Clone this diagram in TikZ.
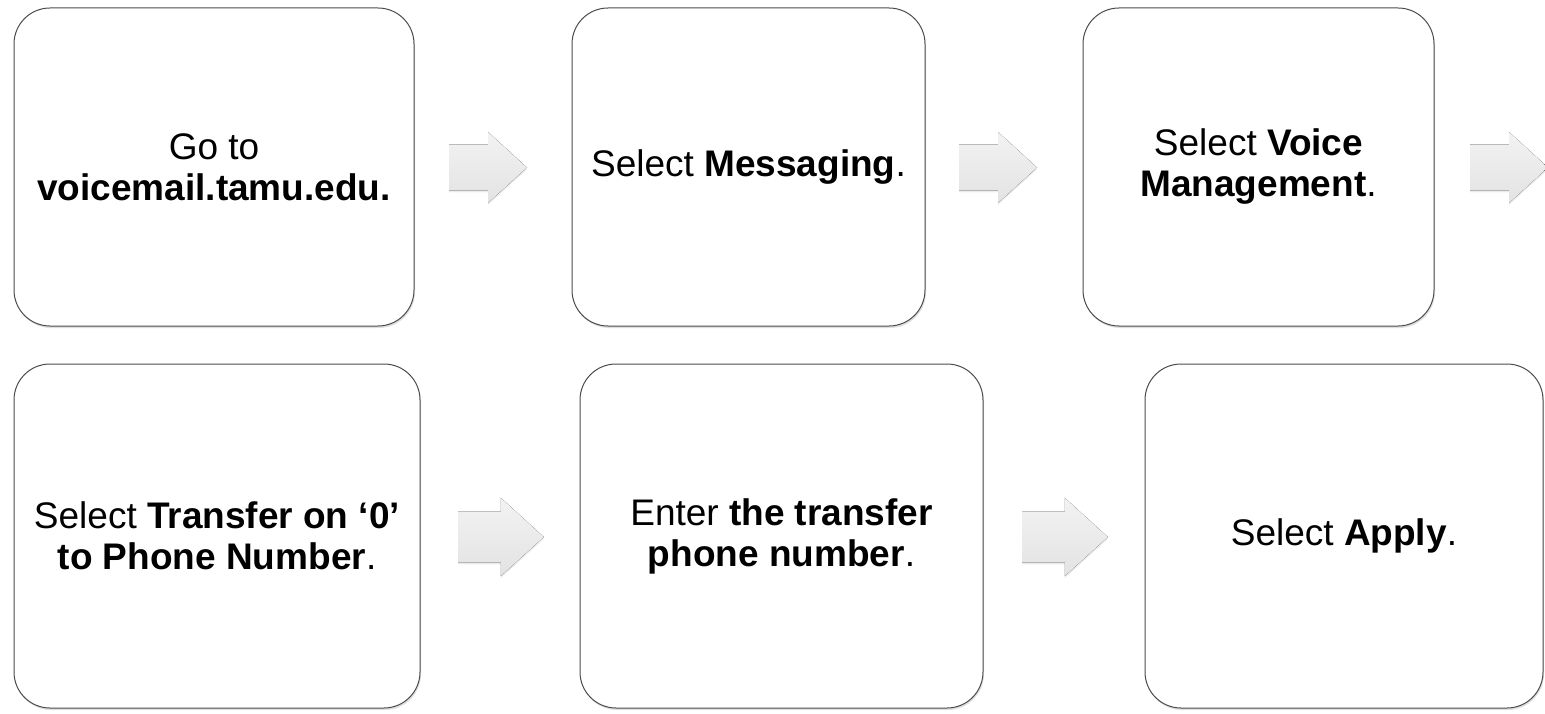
\documentclass[tikz,border=0pt]{standalone}
\usepackage{fontspec}
\setmainfont{Liberation Sans}
\usetikzlibrary{shadows}
\newcommand{\blockarrow}[2]{\fill[arrowfill, shift={#1}, scale=#2] (0,-23) -- (39,-23) -- (39,-35.5) -- (78,0) -- (39,35.5) -- (39,23) -- (0,23) -- cycle;}
\begin{document}
\begin{tikzpicture}[x=1pt,y=-1pt]
            \tikzstyle{stepbox}=[draw=black!70, line width=1pt, fill=white, rounded corners=36pt, align=center, inner sep=0pt, font=\fontsize{37}{41}\selectfont, drop shadow={opacity=0.25, shadow xshift=1pt, shadow yshift=-2pt}]
            \tikzstyle{arrowfill}=[top color=black!5, bottom color=black!11, drop shadow={opacity=0.15, shadow xshift=0pt, shadow yshift=-2pt}]
            \useasboundingbox (0,0) rectangle (1545,714);
            \node[stepbox, minimum width=400pt, minimum height=318pt] (go) at (214,167) {Go to\\\textbf{voicemail.tamu.edu.}};
            \node[stepbox, minimum width=353pt, minimum height=318pt] (msg) at (748.5,167) {Select \textbf{Messaging}.};
            \node[stepbox, minimum width=351pt, minimum height=318pt] (voice) at (1258.5,167) {Select \textbf{Voice}\\\textbf{Management}.};
            \node[stepbox, minimum width=406pt, minimum height=344pt] (transfer) at (217,536) {Select \textbf{Transfer on ‘0’}\\\textbf{to Phone Number}.};
            \node[stepbox, minimum width=403pt, minimum height=344pt] (number) at (781.5,536) {Enter \textbf{the transfer}\\\textbf{phone number}.};
            \node[stepbox, minimum width=398pt, minimum height=344pt] (apply) at (1344,536) {Select \textbf{Apply}.};
            \blockarrow{(449,167.5)}{1}
            \blockarrow{(959,167.5)}{1}
            \blockarrow{(1470,167.5)}{1}
            \blockarrow{(458,537)}{1.1}
            \blockarrow{(1022,537)}{1.1}
        \end{tikzpicture}
\end{document}
